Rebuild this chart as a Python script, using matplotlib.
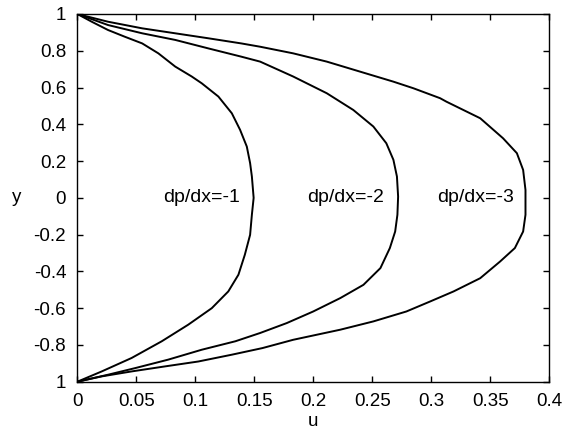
import matplotlib
matplotlib.use('Agg')
import matplotlib.pyplot as plt

plt.rcParams['font.family'] = ['Liberation Sans', 'DejaVu Sans']

# velocity profiles u(y) across the channel, one per pressure gradient
y1 = [1.0, 0.958, 0.913, 0.877, 0.84, 0.786, 0.714, 0.66, 0.623, 0.551, 0.46, 0.37,
      0.279, 0.189, 0.116, 0.0, -0.092, -0.201, -0.31, -0.418, -0.509, -0.6, -0.69,
      -0.78, -0.871, -0.944, -1.0]
u1 = [0.0, 0.0122, 0.026, 0.040, 0.055, 0.0687, 0.083, 0.097, 0.1055, 0.1196, 0.131,
      0.138, 0.1437, 0.1465, 0.148, 0.1495, 0.148, 0.1465, 0.142, 0.1366, 0.128, 0.114,
      0.094, 0.0716, 0.046, 0.0207, 0.0]

y2 = [1.0, 0.94, 0.895, 0.859, 0.813, 0.768, 0.741, 0.66, 0.569, 0.478, 0.388, 0.297,
      0.207, 0.116, 0.007, -0.092, -0.183, -0.273, -0.382, -0.473, -0.545, -0.618,
      -0.681, -0.735, -0.78, -0.826, -0.88, -0.926, -0.962, -1.0]
u2 = [0.0, 0.026, 0.055, 0.083, 0.111, 0.139, 0.155, 0.183, 0.2115, 0.234, 0.251, 0.262,
      0.268, 0.271, 0.272, 0.2714, 0.2695, 0.265, 0.257, 0.2426, 0.223, 0.2,
      0.1776, 0.155, 0.134, 0.1055, 0.077, 0.049, 0.026, 0.0]

y3 = [1.0, 0.958, 0.922, 0.895, 0.868, 0.84, 0.822, 0.786, 0.741, 0.686, 0.632, 0.596,
      0.542, 0.523, 0.433, 0.324, 0.243, 0.152, 0.043, -0.092, -0.183, -0.273, -0.346,
      -0.437, -0.509, -0.564, -0.618, -0.672, -0.717, -0.772, -0.817, -0.853, -0.89,
      -0.917, -0.944, -0.971, -1.0]
u3 = [0.0, 0.026, 0.055, 0.083, 0.111, 0.139, 0.155, 0.183, 0.2115, 0.24, 0.268, 0.285,
      0.3076, 0.313, 0.3416, 0.361, 0.3727, 0.378, 0.38, 0.38, 0.378, 0.371, 0.3585,
      0.3416, 0.319, 0.299, 0.279, 0.251, 0.223, 0.183, 0.157, 0.131, 0.1026,
      0.074, 0.046, 0.0207, 0.0]

labels = ['dp/dx=-1', 'dp/dx=-2', 'dp/dx=-3']
label_x = [0.0727, 0.195, 0.305]

yticks = [1, 0.8, 0.6, 0.4, 0.2, 0, -0.2, -0.4, -0.6, -0.8, -1]
ytick_labels = ['1', '0.8', '0.6', '0.4', '0.2', '0', '-0.2', '-0.4', '-0.6', '-0.8', '1']
xticks = [0, 0.05, 0.1, 0.15, 0.2, 0.25, 0.3, 0.35, 0.4]
xtick_labels = ['0', '0.05', '0.1', '0.15', '0.2', '0.25', '0.3', '0.35', '0.4']

fig = plt.figure(figsize=(5.62, 4.36), dpi=100)
ax = fig.add_axes([0.1376, 0.1245, 0.8394, 0.8434])

for u, y in [(u1, y1), (u2, y2), (u3, y3)]:
    ax.plot(u, y, color='black', linewidth=1.4)

for lx, lab in zip(label_x, labels):
    ax.text(lx, 0, lab, fontsize=14, ha='left', va='center')

ax.set_xlim(0, 0.4)
ax.set_ylim(-1, 1)
ax.set_xticks(xticks)
ax.set_xticklabels(xtick_labels)
ax.set_yticks(yticks)
ax.set_yticklabels(ytick_labels)
ax.tick_params(direction='in', length=4, width=1, top=True, right=True,
               labelsize=13.5)
ax.tick_params(axis='x', pad=8)
ax.tick_params(axis='y', pad=8)
for s in ax.spines.values():
    s.set_linewidth(1)

ax.set_xlabel('u', fontsize=13.5, labelpad=2)
ax.set_ylabel('y', fontsize=13.5, rotation=0, labelpad=12, va='center')

fig.savefig('out.png', dpi=100)
